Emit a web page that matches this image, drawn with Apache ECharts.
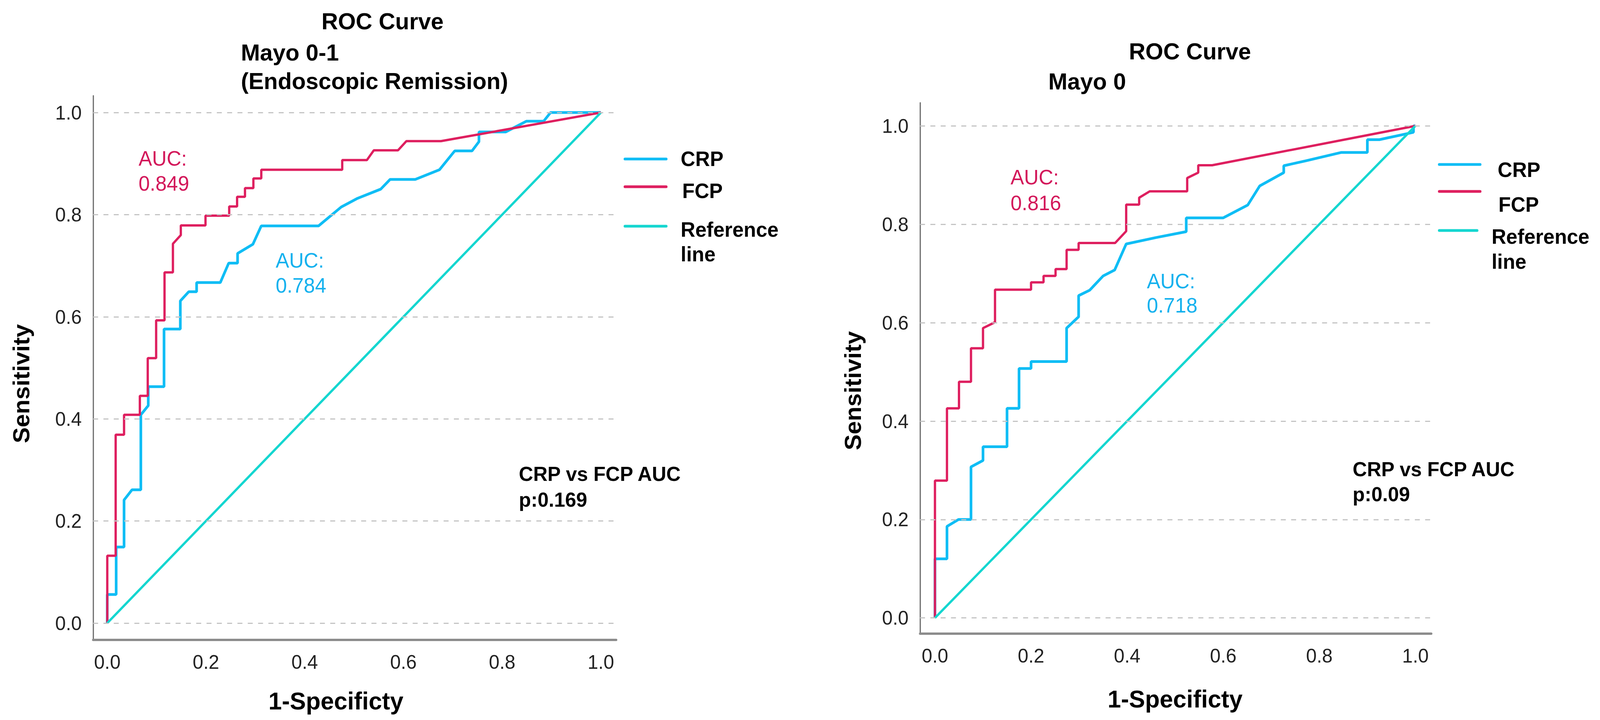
<!DOCTYPE html>
<html>
<head>
<meta charset="utf-8">
<script src="https://cdn.jsdelivr.net/npm/echarts@6/dist/echarts.min.js"></script>
<style>
  html, body { margin: 0; padding: 0; background: #ffffff; overflow: hidden; }
  #chart { width: 4191px; height: 1843px; transform-origin: 0 0; }
</style>
</head>
<body>
<div id="chart"></div>
<script>
// ---------- data ----------
const tickValues = [0, 0.2, 0.4, 0.6, 0.8, 1.0];

// Left panel: Mayo 0-1 (Endoscopic Remission)  [1-Specificity, Sensitivity]
const crpLeft = [[0,0],[0,0.056],[0.018,0.056],[0.018,0.149],[0.034,0.149],[0.034,0.241],[0.050,0.261],[0.068,0.261],[0.068,0.408],[0.083,0.426],[0.083,0.463],[0.115,0.463],[0.115,0.576],[0.148,0.576],[0.148,0.631],[0.165,0.649],[0.181,0.649],[0.181,0.667],[0.229,0.667],[0.246,0.705],[0.264,0.705],[0.264,0.724],[0.295,0.742],[0.312,0.778],[0.428,0.778],[0.474,0.815],[0.507,0.832],[0.554,0.850],[0.573,0.869],[0.624,0.869],[0.673,0.888],[0.704,0.925],[0.739,0.925],[0.753,0.943],[0.753,0.962],[0.807,0.962],[0.849,0.983],[0.884,0.983],[0.898,1.0],[1,1]];
const fcpLeft = [[0,0],[0,0.132],[0.017,0.132],[0.017,0.369],[0.034,0.369],[0.034,0.408],[0.066,0.408],[0.066,0.445],[0.082,0.445],[0.082,0.519],[0.099,0.519],[0.099,0.593],[0.116,0.593],[0.116,0.687],[0.133,0.687],[0.133,0.743],[0.149,0.760],[0.149,0.779],[0.199,0.779],[0.199,0.798],[0.247,0.798],[0.247,0.816],[0.263,0.816],[0.263,0.835],[0.279,0.835],[0.279,0.852],[0.296,0.852],[0.296,0.871],[0.312,0.871],[0.312,0.888],[0.476,0.888],[0.476,0.907],[0.526,0.907],[0.540,0.926],[0.589,0.926],[0.606,0.944],[0.676,0.944],[1,1]];

// Right panel: Mayo 0
const crpRight = [[0,0],[0,0.120],[0.025,0.120],[0.025,0.186],[0.049,0.200],[0.075,0.200],[0.075,0.307],[0.100,0.320],[0.100,0.348],[0.150,0.348],[0.150,0.426],[0.175,0.426],[0.175,0.507],[0.200,0.507],[0.200,0.521],[0.274,0.521],[0.274,0.589],[0.299,0.612],[0.299,0.655],[0.322,0.666],[0.350,0.695],[0.374,0.707],[0.398,0.760],[0.460,0.773],[0.523,0.785],[0.523,0.813],[0.600,0.813],[0.651,0.839],[0.676,0.878],[0.726,0.905],[0.726,0.919],[0.772,0.929],[0.846,0.946],[0.900,0.946],[0.900,0.972],[0.925,0.972],[0.996,0.987],[0.996,1.0],[1,1]];
const fcpRight = [[0,0],[0,0.279],[0.025,0.279],[0.025,0.426],[0.050,0.426],[0.050,0.480],[0.075,0.480],[0.075,0.548],[0.100,0.548],[0.100,0.589],[0.125,0.601],[0.125,0.667],[0.200,0.667],[0.200,0.682],[0.226,0.682],[0.226,0.695],[0.251,0.695],[0.251,0.709],[0.274,0.709],[0.274,0.748],[0.299,0.748],[0.299,0.762],[0.375,0.762],[0.398,0.786],[0.398,0.840],[0.425,0.840],[0.425,0.854],[0.447,0.867],[0.525,0.867],[0.525,0.894],[0.548,0.905],[0.548,0.920],[0.577,0.920],[1,1]];

const referenceLine = [[0,0],[1,1]];

const seriesNames = ['CRP', 'FCP', 'Reference line'];
const panelTitles = [['ROC Curve', 'Mayo 0-1', '(Endoscopic Remission)'], ['ROC Curve', 'Mayo 0']];
const aucLabels = [['0.849', '0.784'], ['0.816', '0.718']];
const pLabels = ['p:0.169', 'p:0.09'];

// ---------- fit the 4191-wide design into the actual viewport width ----------
const DESIGN_W = 4191;
const el = document.getElementById('chart');
const vw = window.innerWidth || DESIGN_W;
if (vw < DESIGN_W) el.style.transform = 'scaleX(' + (vw / DESIGN_W) + ')';

// ---------- styling ----------
const FONT = "'Liberation Sans', Arial, Helvetica, sans-serif";
const C_CRP = '#0fbdf5';
const C_FCP = '#de1f5f';
const C_REF = '#14d6d0';
const C_CRP_TXT = '#14b1ee';
const C_FCP_TXT = '#d3175a';

function txt(x, yc, text, size, weight, color, align, rotation) {
  return {
    type: 'text', x: x, y: yc + (rotation ? 0 : 0.05 * size), rotation: rotation || 0, silent: true,
    style: { text: text, font: weight + ' ' + size + 'px ' + FONT, fill: color,
             align: align || 'left', verticalAlign: 'middle' }
  };
}
function legLine(x1, x2, y, color) {
  return { type: 'line', silent: true, shape: { x1: x1, y1: y, x2: x2, y2: y },
           style: { stroke: color, lineWidth: 7, lineCap: 'round' } };
}

function xAxisFor(gi, min, max) {
  return {
    type: 'value', gridIndex: gi, min: min, max: max, position: 'bottom',
    axisLine: { show: true, onZero: false, lineStyle: { color: '#8c8c8c', width: 6 } },
    axisTick: { show: false }, splitLine: { show: false },
    axisLabel: { customValues: tickValues, formatter: v => v.toFixed(1), margin: 31,
                 fontSize: 50, fontFamily: FONT, color: '#222' }
  };
}
function yAxisFor(gi, min, max) {
  return {
    type: 'value', gridIndex: gi, min: min, max: max, position: 'left',
    axisLine: { show: true, onZero: false, lineStyle: { color: '#666666', width: 3 } },
    axisTick: { show: false }, splitLine: { show: false },
    axisLabel: { customValues: tickValues, formatter: v => v.toFixed(1), margin: 30,
                 fontSize: 50, fontFamily: FONT, color: '#222', padding: [8, 0, 0, 0] }
  };
}
function gridSeries(gi) {
  return {
    type: 'line', xAxisIndex: gi, yAxisIndex: gi, data: referenceLine, z: 1, silent: true,
    symbol: 'none', lineStyle: { opacity: 0, width: 0 },
    markLine: {
      silent: true, symbol: ['none', 'none'], label: { show: false },
      lineStyle: { color: '#c4c4c4', width: 3, type: [13, 14] },
      data: tickValues.map(v => ({ yAxis: v }))
    }
  };
}
function curve(gi, name, data, color, width) {
  return { type: 'line', name: name, xAxisIndex: gi, yAxisIndex: gi, data: data, z: 3,
           symbol: 'none', showSymbol: false, lineStyle: { color: color, width: width },
           itemStyle: { color: color } };
}

const option = {
  backgroundColor: '#ffffff',
  animation: false,
  grid: [
    { left: 244, top: 245, width: 1370, height: 1393 },
    { left: 2410, top: 263, width: 1339, height: 1359 }
  ],
  xAxis: [ xAxisFor(0, -0.0286, 1.031), xAxisFor(1, -0.031, 1.033) ],
  yAxis: [ yAxisFor(0, -0.033, 1.033), yAxisFor(1, -0.032, 1.047) ],
  series: [
    gridSeries(0),
    curve(0, seriesNames[0], crpLeft, C_CRP, 7),
    curve(0, seriesNames[1], fcpLeft, C_FCP, 6),
    curve(0, seriesNames[2], referenceLine, C_REF, 6),
    gridSeries(1),
    curve(1, seriesNames[0], crpRight, C_CRP, 7),
    curve(1, seriesNames[1], fcpRight, C_FCP, 6),
    curve(1, seriesNames[2], referenceLine, C_REF, 6)
  ],
  graphic: [
    // titles
    txt(842, 51, panelTitles[0][0], 60, 'bold', '#000'),
    txt(631, 131, panelTitles[0][1], 60, 'bold', '#000'),
    txt(631, 204, panelTitles[0][2], 60, 'bold', '#000'),
    txt(2957, 128, panelTitles[1][0], 60, 'bold', '#000'),
    txt(2746, 205, panelTitles[1][1], 60, 'bold', '#000'),
    // axis titles
    txt(56, 982, 'Sensitivity', 61, 'bold', '#000', 'center', Math.PI / 2),
    txt(2234, 1000, 'Sensitivity', 61, 'bold', '#000', 'center', Math.PI / 2),
    txt(880, 1791, '1-Specificty', 63, 'bold', '#000', 'center'),
    txt(3078, 1786, '1-Specificty', 63, 'bold', '#000', 'center'),
    // AUC annotations
    txt(363, 403, 'AUC:', 53, 'normal', C_FCP_TXT),
    txt(363, 467, aucLabels[0][0], 53, 'normal', C_FCP_TXT),
    txt(722, 664, 'AUC:', 53, 'normal', C_CRP_TXT),
    txt(722, 728, aucLabels[0][1], 53, 'normal', C_CRP_TXT),
    txt(2647, 451, 'AUC:', 53, 'normal', C_FCP_TXT),
    txt(2647, 517, aucLabels[1][0], 53, 'normal', C_FCP_TXT),
    txt(3004, 717, 'AUC:', 53, 'normal', C_CRP_TXT),
    txt(3004, 779, aucLabels[1][1], 53, 'normal', C_CRP_TXT),
    // comparison p-values
    txt(1359, 1210, 'CRP vs FCP AUC', 52, 'bold', '#000'),
    txt(1359, 1276, pLabels[0], 52, 'bold', '#000'),
    txt(3543, 1198, 'CRP vs FCP AUC', 52, 'bold', '#000'),
    txt(3543, 1262, pLabels[1], 52, 'bold', '#000'),
    // legend left
    legLine(1637, 1745, 407, C_CRP),
    legLine(1637, 1745, 478, C_FCP),
    legLine(1637, 1745, 579, C_REF),
    txt(1783, 404, seriesNames[0], 53, 'bold', '#000'),
    txt(1787, 486, seriesNames[1], 53, 'bold', '#000'),
    txt(1783, 585, 'Reference', 53, 'bold', '#000'),
    txt(1783, 648, 'line', 53, 'bold', '#000'),
    // legend right
    legLine(3770, 3877, 421, C_CRP),
    legLine(3770, 3877, 490, C_FCP),
    legLine(3770, 3869, 590, C_REF),
    txt(3923, 432, seriesNames[0], 53, 'bold', '#000'),
    txt(3925, 521, seriesNames[1], 53, 'bold', '#000'),
    txt(3907, 603, 'Reference', 53, 'bold', '#000'),
    txt(3907, 667, 'line', 53, 'bold', '#000')
  ]
};

const chart = echarts.init(el, null, { renderer: 'svg', width: DESIGN_W, height: 1843 });
chart.setOption(option);
</script>
</body>
</html>
